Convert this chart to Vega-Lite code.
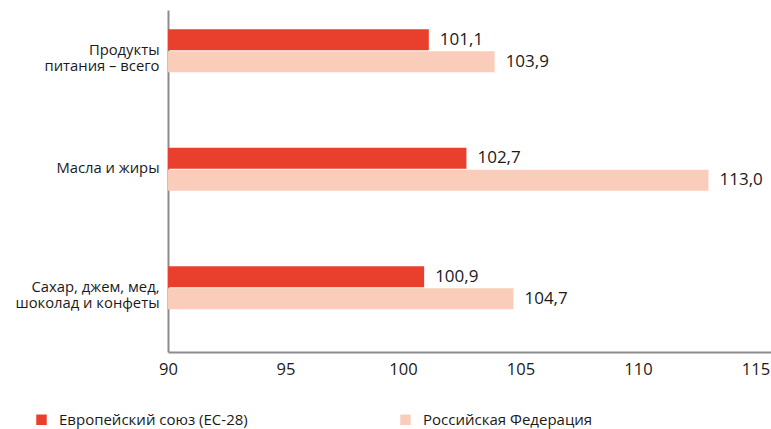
{
  "$schema": "https://vega.github.io/schema/vega-lite/v6.json",
  "autosize": "none",
  "width": 603,
  "height": 342,
  "padding": {"left": 168, "top": 10, "right": 0, "bottom": 77},
  "config": {
    "locale": {"number": {"decimal": ",", "thousands": " ", "grouping": [3], "currency": ["", ""]}},
    "view": {"stroke": null},
    "font": "Open Sans"
  },
  "data": {
    "values": [
      {"category": "Продукты|питания – всего", "series": "Европейский союз (ЕС-28)", "value": 101.1},
      {"category": "Продукты|питания – всего", "series": "Российская Федерация", "value": 103.9},
      {"category": "Масла и жиры", "series": "Европейский союз (ЕС-28)", "value": 102.7},
      {"category": "Масла и жиры", "series": "Российская Федерация", "value": 113.0},
      {"category": "Сахар, джем, мед,|шоколад и конфеты", "series": "Европейский союз (ЕС-28)", "value": 100.9},
      {"category": "Сахар, джем, мед,|шоколад и конфеты", "series": "Российская Федерация", "value": 104.7}
    ]
  },
  "encoding": {
    "y": {
      "field": "category", "type": "nominal", "sort": null, "title": null,
      "scale": {"paddingInner": 0.637, "paddingOuter": 0.2615, "align": 0.31},
      "axis": {
        "domainColor": "#8c8c8c", "domainWidth": 2, "ticks": false, "labelPadding": 9,
        "labelFontSize": 14.8, "labelColor": "#1a1a1a", "labelLineHeight": 16.5, "labelLimit": 0,
        "labelExpr": "split(datum.value, '|')", "labelFont": "Open Sans"
      }
    },
    "yOffset": {
      "field": "series", "type": "nominal", "sort": null,
      "scale": {"paddingInner": 0.05, "paddingOuter": 0}
    },
    "x": {
      "field": "value", "type": "quantitative", "title": null,
      "scale": {"domain": [90, 115.66], "nice": false, "zero": false},
      "axis": {
        "values": [90, 95, 100, 105, 110, 115], "grid": false, "ticks": false,
        "domainColor": "#8c8c8c", "domainWidth": 2, "labelPadding": 9,
        "labelFontSize": 16.5, "labelColor": "#1a1a1a", "labelFont": "Open Sans",
        "labelFlush": false, "labelOverlap": false
      }
    }
  },
  "layer": [
    {
      "mark": {"type": "bar"},
      "encoding": {
        "x2": {"datum": 90},
        "color": {
          "field": "series", "type": "nominal", "sort": null, "title": null,
          "scale": {"range": ["#E8402D", "#F9CDBA"]},
          "legend": {
            "orient": "none", "direction": "horizontal", "legendX": -134, "legendY": 402,
            "symbolType": "square", "symbolSize": 110, "symbolStrokeWidth": 0,
            "labelFontSize": 15, "labelColor": "#1a1a1a", "labelFont": "Open Sans", "labelLimit": 0,
            "columnPadding": 150, "labelOffset": 10
          }
        }
      }
    },
    {
      "mark": {"type": "text", "align": "left", "dx": 11, "fontSize": 17, "color": "#1a1a1a", "font": "Open Sans"},
      "encoding": {
        "text": {"field": "value", "type": "quantitative", "format": ".1f"}
      }
    }
  ]
}
